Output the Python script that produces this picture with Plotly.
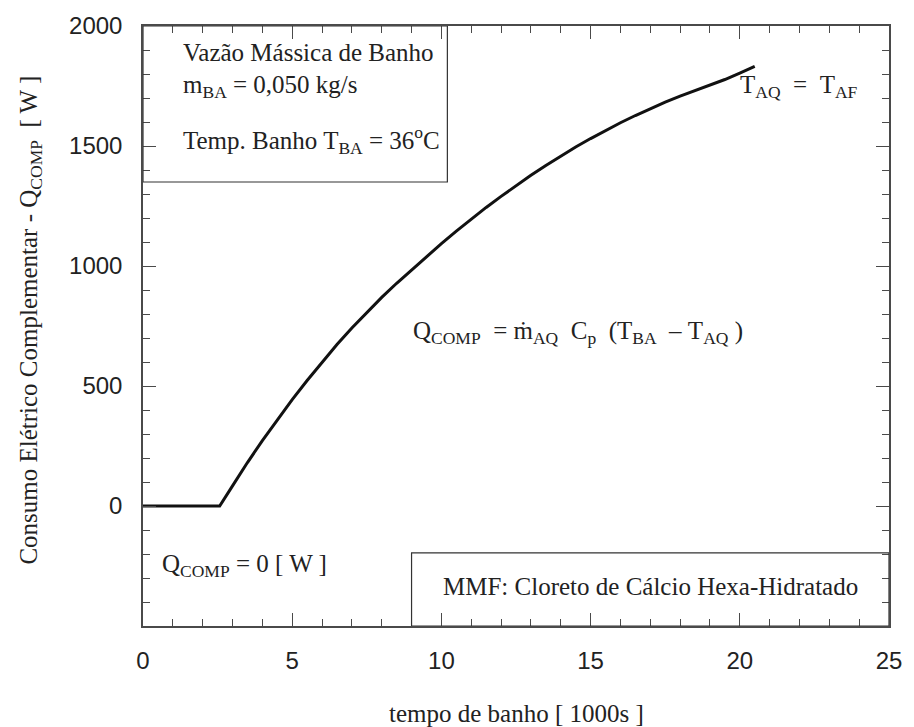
import plotly.graph_objects as go

# bath time (1000 s) and complementary electric power Q_COMP (W)
tempo = [0.0, 2.57, 3.0, 3.5, 4.0, 4.5, 5.0, 5.5, 6.0, 6.5, 7.0, 7.5, 8.0,
         8.5, 9.0, 9.5, 10.0, 10.5, 11.0, 11.5, 12.0, 12.5, 13.0, 13.5,
         14.0, 14.5, 15.0, 15.5, 16.0, 16.5, 17.0, 17.5, 18.0, 18.5, 19.0,
         19.5, 20.0, 20.5]
q_comp = [0, 0, 84, 181, 272, 360, 443, 523, 600, 673, 742, 807, 869,
          928, 984, 1040, 1093, 1145, 1195, 1244, 1290, 1335, 1378, 1419,
          1458, 1496, 1531, 1565, 1597, 1627, 1656, 1683, 1708, 1731, 1753,
          1777, 1804, 1832]

x_ticks = [0, 5, 10, 15, 20, 25]
y_ticks = [0, 500, 1000, 1500, 2000]

SERIF = "Liberation Serif, Times New Roman, serif"
SANS = "Liberation Sans, Arial, sans-serif"
NB = "\u00a0"

fig = go.Figure()
fig.add_trace(go.Scatter(x=tempo, y=q_comp, mode="lines",
                         line=dict(color="#111111", width=3),
                         showlegend=False, hoverinfo="skip"))

axis_common = dict(
    showgrid=False, zeroline=False, showline=True, linecolor="#4a4a4a",
    linewidth=1.5, mirror="ticks", ticks="inside", ticklen=13, tickwidth=1,
    tickcolor="#4a4a4a", tickfont=dict(family=SANS, size=24, color="#222222"),
)
fig.update_xaxes(range=[0, 25], tickvals=x_ticks, ticklabelstandoff=12,
                 minor=dict(dtick=1, ticks="inside", ticklen=7,
                            tickcolor="#4a4a4a", tickwidth=1),
                 **axis_common)
fig.update_yaxes(range=[-500, 2000], tickvals=y_ticks, ticklabelstandoff=14,
                 minor=dict(dtick=100, ticks="inside", ticklen=7,
                            tickcolor="#4a4a4a", tickwidth=1),
                 **axis_common)

# text boxes
fig.add_shape(type="rect", x0=0, x1=10.2, y0=1350, y1=2000,
              line=dict(color="#333333", width=1.2))
fig.add_shape(type="rect", x0=9.0, x1=25, y0=-500, y1=-195,
              line=dict(color="#333333", width=1.2))

tfont = dict(family=SERIF, size=25, color="#222222")
notes = [
    (1.29, 1891, "Vazão Mássica de Banho"),
    (1.29, 1749, "m<sub>BA</sub> = 0,050 kg/s"),
    (1.29, 1523, "Temp. Banho T<sub>BA</sub> = 36<sup>o</sup>C"),
    (19.95, 1747, f"T<sub>AQ</sub>{NB}{NB}={NB}{NB}T<sub>AF</sub>"),
    (8.98, 722, f"Q<sub>COMP</sub>{NB}{NB}={NB}ṁ<sub>AQ</sub>{NB}{NB}C<sub>p</sub>{NB}{NB}(T<sub>BA</sub>{NB}{NB}–{NB}T<sub>AQ</sub>{NB})"),
    (0.56, -248, "Q<sub>COMP</sub> = 0 [ W ]"),
    (10.0, -336, "MMF: Cloreto de Cálcio Hexa-Hidratado"),
]
for x, y, t in notes:
    fig.add_annotation(x=x, y=y, text=t, showarrow=False, xanchor="left",
                       yanchor="middle", font=tfont)

fig.add_annotation(xref="paper", yref="paper", x=0.5, y=-0.145,
                   text="tempo de banho [ 1000s ]", showarrow=False,
                   xanchor="center", yanchor="middle", font=tfont)
fig.add_annotation(xref="paper", yref="paper", x=-0.152, y=0.51,
                   text=f"Consumo Elétrico Complementar - Q<sub>COMP</sub>{NB}{NB}[ W ]",
                   textangle=-90, showarrow=False, xanchor="center",
                   yanchor="middle", font=dict(family=SERIF, size=25,
                                               color="#222222"))

fig.update_layout(width=914, height=727,
                  margin=dict(l=143, r=14, t=22, b=101),
                  paper_bgcolor="white", plot_bgcolor="white")

fig.write_html("out.html")
